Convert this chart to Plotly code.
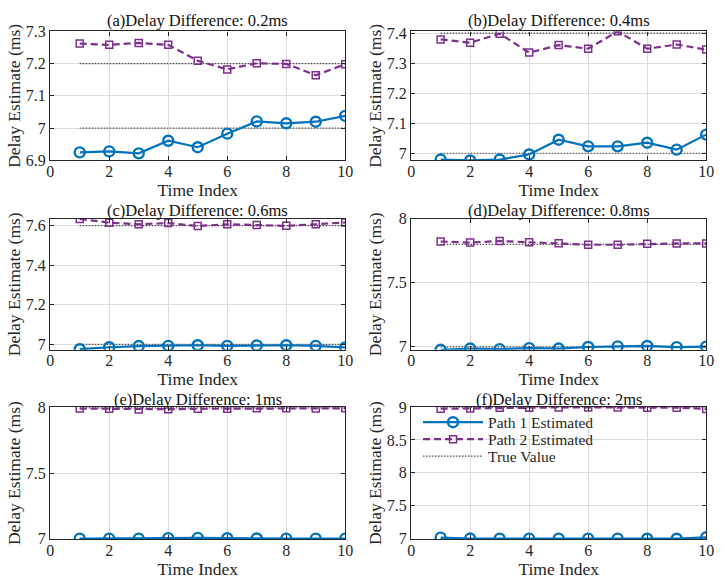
import plotly.graph_objects as go

time_index = [1, 2, 3, 4, 5, 6, 7, 8, 9, 10]

titles = [
    "(a)Delay Difference: 0.2ms",
    "(b)Delay Difference: 0.4ms",
    "(c)Delay Difference: 0.6ms",
    "(d)Delay Difference: 0.8ms",
    "(e)Delay Difference: 1ms",
    "(f)Delay Difference: 2ms",
]

path1_a = [6.925, 6.928, 6.922, 6.961, 6.941, 6.983, 7.021, 7.015, 7.020, 7.038]
path2_a = [7.262, 7.258, 7.264, 7.258, 7.209, 7.182, 7.201, 7.199, 7.164, 7.198]
true_a = [7.0, 7.2]

path1_b = [6.979, 6.976, 6.979, 6.996, 7.045, 7.023, 7.023, 7.035, 7.012, 7.062]
path2_b = [7.379, 7.368, 7.398, 7.335, 7.360, 7.348, 7.406, 7.348, 7.362, 7.345]
true_b = [7.0, 7.4]

path1_c = [6.976, 6.986, 6.992, 6.993, 6.996, 6.993, 6.995, 6.996, 6.993, 6.985]
path2_c = [7.634, 7.615, 7.607, 7.613, 7.598, 7.607, 7.603, 7.599, 7.607, 7.616]
true_c = [7.0, 7.6]

path1_d = [6.977, 6.987, 6.982, 6.990, 6.987, 6.999, 7.004, 7.007, 6.998, 7.002]
path2_d = [7.822, 7.814, 7.826, 7.817, 7.808, 7.797, 7.797, 7.804, 7.807, 7.807]
true_d = [7.0, 7.8]

path1_e = [7.000, 7.000, 7.000, 7.004, 7.006, 7.003, 7.001, 7.000, 7.000, 7.000]
path2_e = [7.995, 7.993, 7.988, 7.990, 7.993, 7.993, 7.997, 7.997, 7.995, 7.997]
true_e = [7.0, 8.0]

path1_f = [7.013, 6.999, 6.998, 6.998, 6.998, 6.998, 6.998, 6.997, 6.997, 7.018]
path2_f = [8.975, 8.977, 8.990, 8.990, 8.995, 8.995, 8.995, 8.992, 8.992, 8.972]
true_f = [7.0, 9.0]

path1_all = [path1_a, path1_b, path1_c, path1_d, path1_e, path1_f]
path2_all = [path2_a, path2_b, path2_c, path2_d, path2_e, path2_f]
true_all = [true_a, true_b, true_c, true_d, true_e, true_f]

y_ranges = [[6.9, 7.3], [6.976, 7.406], [6.973, 7.635], [6.977, 8.0], [6.996, 8.006], [6.99, 9.0]]
y_ticks = [
    [6.9, 7.0, 7.1, 7.2, 7.3],
    [7.0, 7.1, 7.2, 7.3, 7.4],
    [7.0, 7.2, 7.4, 7.6],
    [7.0, 7.5, 8.0],
    [7.0, 7.5, 8.0],
    [7.0, 7.5, 8.0, 8.5, 9.0],
]
x_ticks = [0, 2, 4, 6, 8, 10]

W, H = 725, 587
col_px = [(47, 347), (414, 714)]
row_px = [(24, 157), (217, 352), (411, 547)]
title_gap = [11, 8, 8]

FONT = "Liberation Serif"
BLUE = "#0072BD"
PURPLE = "#7E2F8E"
AXC = "#262626"

fig = go.Figure()
layout = {}
annotations = []

leg_names = {"p1": "legend", "p2": "legend2", "tv": "legend3"}

for i in range(6):
    r, c = divmod(i, 2)
    n = i + 1
    xa = "x" if n == 1 else f"x{n}"
    ya = "y" if n == 1 else f"y{n}"
    x0, x1 = col_px[c]
    t0, b0 = row_px[r]
    showleg = (i == 5)
    for k, tv in enumerate(true_all[i]):
        fig.add_trace(go.Scatter(
            x=[time_index[0], time_index[-1]], y=[tv, tv], mode="lines",
            line=dict(color="#4d4d4d", width=1.2, dash="1.5px,1.5px"),
            name="True Value", showlegend=(showleg and k == 0),
            legend=leg_names["tv"], xaxis=xa, yaxis=ya, hoverinfo="skip"))
    fig.add_trace(go.Scatter(
        x=time_index, y=path1_all[i], mode="lines+markers",
        line=dict(color=BLUE, width=2.2),
        marker=dict(symbol="circle-open", size=10, color=BLUE, line=dict(width=2.4)),
        name="Path 1 Estimated", showlegend=showleg, legend=leg_names["p1"],
        xaxis=xa, yaxis=ya))
    fig.add_trace(go.Scatter(
        x=time_index, y=path2_all[i], mode="lines+markers",
        line=dict(color=PURPLE, width=2.2, dash="7px,4px"),
        marker=dict(symbol="square-open", size=7, color=PURPLE, line=dict(width=1.5)),
        name="Path 2 Estimated", showlegend=showleg, legend=leg_names["p2"],
        xaxis=xa, yaxis=ya))

    common = dict(showline=True, linecolor=AXC, linewidth=1.4, mirror="ticks",
                  ticks="inside", ticklen=4, tickcolor=AXC, showgrid=True,
                  gridcolor="#dcdcdc", gridwidth=1, zeroline=False,
                  tickfont=dict(family=FONT, size=16, color=AXC))
    layout["xaxis" if n == 1 else f"xaxis{n}"] = dict(
        domain=[x0 / W, x1 / W], range=[0, 10], tickvals=x_ticks,
        anchor=ya, ticklabelstandoff=-4,
        title=dict(text="Time Index", font=dict(family=FONT, size=17.5, color=AXC), standoff=0),
        **common)
    layout["yaxis" if n == 1 else f"yaxis{n}"] = dict(
        domain=[1 - b0 / H, 1 - t0 / H], range=y_ranges[i], tickvals=y_ticks[i],
        anchor=xa,
        title=dict(text="Delay Estimate (ms)", font=dict(family=FONT, size=17.5, color=AXC), standoff=0),
        **common)
    annotations.append(dict(
        text=titles[i], x=(x0 + x1) / 2 / W, y=1 - (t0 - title_gap[r]) / H,
        xref="paper", yref="paper", xanchor="center", yanchor="middle",
        showarrow=False, font=dict(family=FONT, size=16.5, color="#111111")))

leg_common = dict(xanchor="left", yanchor="middle", bgcolor="rgba(0,0,0,0)",
                  borderwidth=0, itemwidth=60, font=dict(family=FONT, size=15.5, color=AXC))

fig.update_layout(
    width=W, height=H, margin=dict(l=0, r=0, t=0, b=0),
    paper_bgcolor="white", plot_bgcolor="white",
    font=dict(family=FONT, size=15, color=AXC),
    showlegend=True, annotations=annotations,
    legend=dict(x=421 / W, y=1 - 427 / H, **leg_common),
    legend2=dict(x=421 / W, y=1 - 444.5 / H, **leg_common),
    legend3=dict(x=421 / W, y=1 - 462 / H, **leg_common),
    **layout)

fig.write_html("out.html")
